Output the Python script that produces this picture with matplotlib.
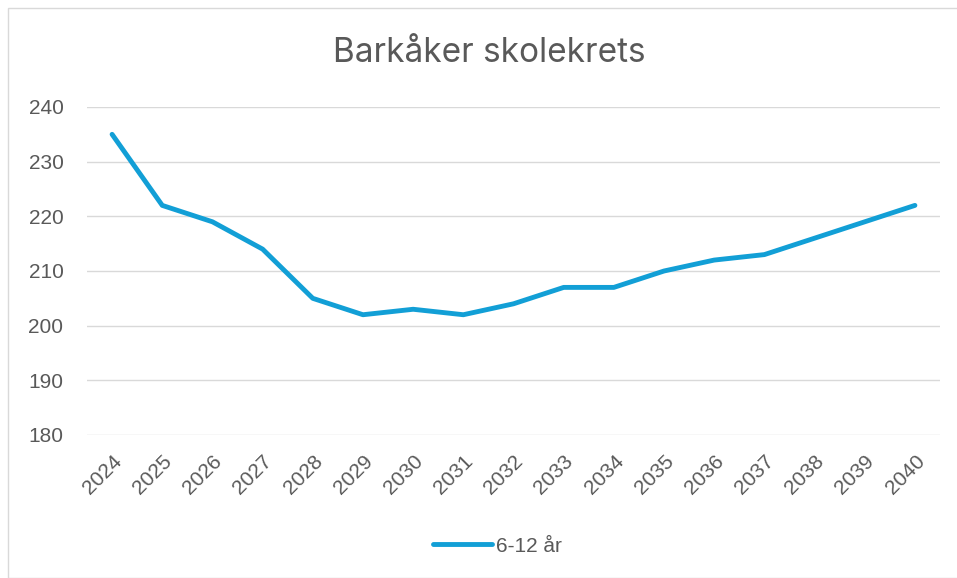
import matplotlib.pyplot as plt
from matplotlib.patches import Rectangle

years = [str(y) for y in range(2024, 2041)]
values = [235, 222, 219, 214, 205, 202, 203, 202, 204, 207, 207, 210, 212, 213, 216, 219, 222]
series_name = '6-12 år'
title = 'Barkåker skolekrets'

plt.rcParams['font.family'] = ['Liberation Sans', 'DejaVu Sans']
text_col = '#595959'

fig = plt.figure(figsize=(9.57, 5.78), dpi=100)
fig.patches.append(Rectangle((8 / 957, 0), 1, 1 - 8 / 578, transform=fig.transFigure,
                             fill=False, edgecolor='#d9d9d9', linewidth=1))
ax = fig.add_axes([87 / 957, 1 - 435 / 578, (940 - 87) / 957, (435 - 107) / 578])

x = range(len(years))
line, = ax.plot(x, values, color='#129fd6', linewidth=3.5, solid_capstyle='round',
                solid_joinstyle='round', label=series_name)

ax.set_xlim(-0.5, len(years) - 0.5)
ax.set_ylim(180, 240)
ax.set_yticks(range(180, 241, 10))
ax.set_xticks(list(x))
ax.set_xticklabels(years, rotation=45, ha='right', va='top', rotation_mode='anchor')
ax.grid(axis='y', color='#d9d9d9', linewidth=1)
ax.set_axisbelow(True)
for s in ax.spines.values():
    s.set_visible(False)
ax.tick_params(length=0, colors=text_col, labelsize=15)
ax.tick_params(axis='x', pad=12)
ax.tick_params(axis='y', pad=17)

fig.text(489 / 957, 1 - 53 / 578, title, ha='center', va='center', fontsize=24,
         color=text_col, family=['Inter', 'DejaVu Sans'])
fig.legend(handles=[line], loc='center', bbox_to_anchor=(0.52, 1 - 546 / 578), frameon=False,
           fontsize=15, labelcolor=text_col, handlelength=2.8, handletextpad=0.2)

fig.savefig('out.png', dpi=100)
